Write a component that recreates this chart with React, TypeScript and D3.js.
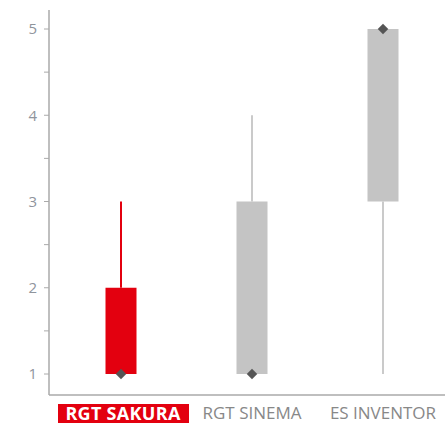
import React, { useEffect, useRef } from 'react'
import * as d3 from 'd3'

const categories = ['RGT SAKURA', 'RGT SINEMA', 'ES INVENTOR']
const lows = [1, 1, 1]
const q1s = [1, 1, 3]
const q3s = [2, 3, 5]
const highs = [3, 4, 5]
const markers = [1, 1, 5]
const highlighted = 'RGT SAKURA'
const yTicks = [1, 2, 3, 4, 5]
const yMinorTicks = [1.5, 2.5, 3.5, 4.5]

const App = () => {
  const ref = useRef<SVGSVGElement>(null)
  const width = 445
  const height = 423

  useEffect(() => {
    const svg = d3.select(ref.current)
    svg.selectAll('*').remove()

    const axisX = 49
    const axisBottom = 395

    const x = d3.scalePoint<string>()
      .domain(categories)
      .range([121, 383])

    const y = d3.scaleLinear()
      .domain([1, 5])
      .range([374, 29])

    const boxW = 31
    const red = '#e3000f'
    const gray = '#c4c4c4'
    const whiskerGray = '#cacaca'

    // axes
    svg.append('line')
      .attr('x1', axisX).attr('x2', axisX)
      .attr('y1', 10).attr('y2', axisBottom)
      .attr('stroke', '#aaaaaa').attr('stroke-width', 1.5)
    svg.append('line')
      .attr('x1', axisX).attr('x2', 445)
      .attr('y1', axisBottom).attr('y2', axisBottom)
      .attr('stroke', '#aaaaaa').attr('stroke-width', 1.5)

    const g = svg.append('g')
    g.selectAll('line.major')
      .data(yTicks)
      .join('line')
      .attr('class', 'major')
      .attr('x1', axisX - 5).attr('x2', axisX)
      .attr('y1', d => y(d)).attr('y2', d => y(d))
      .attr('stroke', '#aaaaaa').attr('stroke-width', 1)
    g.selectAll('line.minor')
      .data(yMinorTicks)
      .join('line')
      .attr('class', 'minor')
      .attr('x1', axisX - 5).attr('x2', axisX)
      .attr('y1', d => y(d)).attr('y2', d => y(d))
      .attr('stroke', '#aaaaaa').attr('stroke-width', 1)
    g.selectAll('text')
      .data(yTicks)
      .join('text')
      .attr('x', 37)
      .attr('y', d => y(d))
      .attr('dy', '0.36em')
      .attr('text-anchor', 'end')
      .attr('font-family', 'Open Sans, sans-serif')
      .attr('font-size', 15)
      .attr('fill', '#8f949c')
      .text(d => d)

    const rows = categories.map((c, i) => ({
      c, low: lows[i], q1: q1s[i], q3: q3s[i], high: highs[i], marker: markers[i]
    }))

    const boxes = svg.append('g')
    rows.forEach(d => {
      const cx = x(d.c) as number
      const hl = d.c === highlighted
      const wColor = hl ? red : whiskerGray
      if (d.high > d.q3) {
        boxes.append('line')
          .attr('x1', cx).attr('x2', cx)
          .attr('y1', y(d.high)).attr('y2', y(d.q3))
          .attr('stroke', wColor).attr('stroke-width', 2)
      }
      if (d.low < d.q1) {
        boxes.append('line')
          .attr('x1', cx).attr('x2', cx)
          .attr('y1', y(d.q1)).attr('y2', y(d.low))
          .attr('stroke', wColor).attr('stroke-width', 2)
      }
      boxes.append('rect')
        .attr('x', cx - boxW / 2)
        .attr('y', y(d.q3))
        .attr('width', boxW)
        .attr('height', y(d.q1) - y(d.q3))
        .attr('fill', hl ? red : gray)
      boxes.append('path')
        .attr('d', d3.symbol(d3.symbolDiamond2, 70)() as string)
        .attr('transform', `translate(${cx},${y(d.marker)})`)
        .attr('fill', '#555555')
    })

    // category labels
    const labels = svg.append('g')
    rows.forEach(d => {
      const cx = x(d.c) as number
      if (d.c === highlighted) {
        labels.append('rect')
          .attr('x', 58).attr('y', 404)
          .attr('width', 131).attr('height', 19)
          .attr('fill', red)
        labels.append('text')
          .attr('x', cx + 2).attr('y', 420)
          .attr('text-anchor', 'middle')
          .attr('font-family', 'Open Sans, sans-serif')
          .attr('font-weight', 700)
          .attr('font-size', 18)
          .attr('letter-spacing', 0.3)
          .attr('fill', '#ffffff')
          .text(d.c)
      } else {
        labels.append('text')
          .attr('x', cx).attr('y', 419)
          .attr('text-anchor', 'middle')
          .attr('font-family', 'Open Sans, sans-serif')
          .attr('font-size', 17)
          .attr('fill', '#888888')
          .text(d.c)
      }
    })
  }, [])

  return (
    <svg ref={ref} width={width} height={height}
      style={{ position: 'absolute', left: 0, top: 0 }} />
  )
}

export default App
